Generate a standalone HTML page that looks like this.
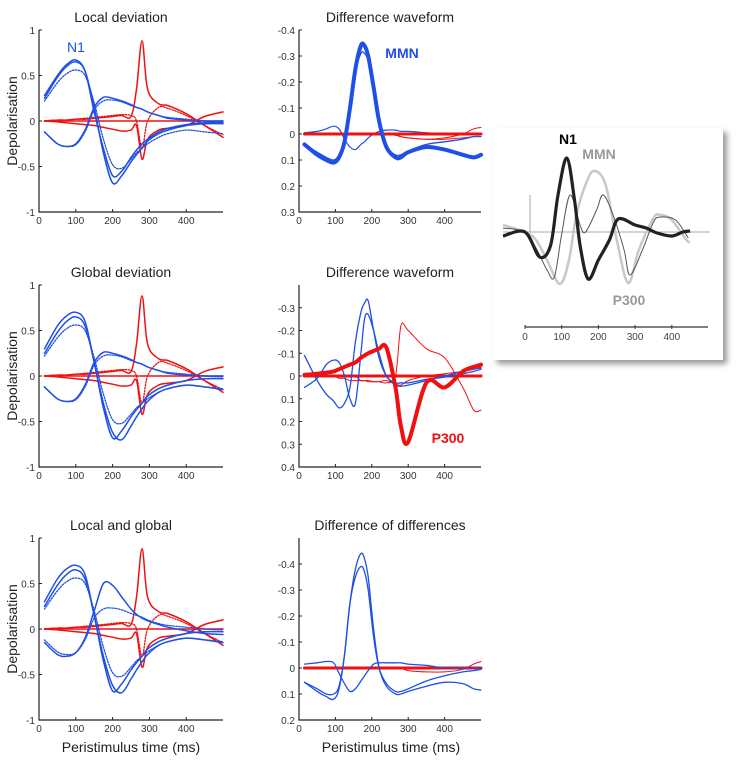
<!DOCTYPE html>
<html><head><meta charset="utf-8"><style>
body{margin:0;background:#fff;}
svg{display:block;font-family:"Liberation Sans",sans-serif;}
</style></head><body>
<svg id="fig" width="740" height="761" viewBox="0 0 740 761">
<defs><filter id="sh" x="-10%" y="-10%" width="130%" height="130%"><feGaussianBlur stdDeviation="3"/></filter></defs>
</svg>
<script>
// ---- data ----
const T = [15,50,75,100,125,150,175,200,225,250,265,280,295,325,350,400,450,500];
const blueA = [0.28,0.5,0.62,0.67,0.55,0.1,-0.3,-0.6,-0.55,-0.4,-0.32,-0.25,-0.2,-0.12,-0.08,-0.04,-0.02,-0.02];
const blueB = [0.25,0.48,0.6,0.65,0.55,0.15,-0.35,-0.68,-0.6,-0.45,-0.37,-0.3,-0.22,-0.14,-0.1,-0.05,-0.03,-0.03];
const blueC = [0.22,0.42,0.52,0.56,0.5,0.2,-0.2,-0.48,-0.52,-0.42,-0.35,-0.3,-0.25,-0.18,-0.14,-0.1,-0.12,-0.14];
const blueD = [-0.12,-0.25,-0.28,-0.25,-0.1,0.15,0.26,0.25,0.22,0.18,0.15,0.13,0.1,0.06,0.03,0.01,0.0,0.0];
const blueE = [-0.12,-0.25,-0.28,-0.26,-0.12,0.12,0.22,0.23,0.21,0.17,0.15,0.13,0.1,0.06,0.04,0.02,0.0,-0.01];
const red1 = [0,0.01,0.01,0.02,0.02,0.03,0.04,0.05,0.06,0.05,0.35,0.88,0.35,0.19,0.17,0.08,-0.05,-0.18];
const red2 = [0,-0.01,-0.02,-0.03,-0.04,-0.05,-0.07,-0.09,-0.11,-0.1,-0.05,-0.42,-0.2,-0.1,-0.08,-0.05,0.05,0.1];
const red3 = [0,0.01,0.01,0.02,0.03,0.04,0.05,0.06,0.07,0.06,0.0,-0.3,0.0,0.15,0.14,0.06,-0.05,-0.15];
const red4 = [0,0,0,0,0,0,0,0,0,0,0,0,0,0,0,0,0,0];
const blueA2 = [0.3,0.55,0.66,0.7,0.6,0.15,-0.3,-0.62,-0.7,-0.55,-0.45,-0.36,-0.28,-0.18,-0.14,-0.1,-0.12,-0.15];
const blueD2 = [-0.15,-0.28,-0.3,-0.26,-0.1,0.2,0.5,0.48,0.35,0.22,0.16,0.12,0.09,0.05,0.02,-0.02,-0.05,-0.06];

const TM = [15,50,75,95,110,125,140,155,170,180,190,205,220,240,265,280,300,350,400,450,480,500];
const d1mmn = [0.04,0.08,0.1,0.11,0.09,0.03,-0.1,-0.25,-0.34,-0.34,-0.3,-0.18,-0.05,0.05,0.09,0.09,0.07,0.05,0.06,0.08,0.09,0.08];
const d1b = [0.04,0.07,0.09,0.1,0.08,0.02,-0.1,-0.24,-0.31,-0.31,-0.28,-0.16,-0.04,0.05,0.08,0.08,0.065,0.04,0.03,0.02,0.01,0.01];
const d1c = [-0.005,-0.01,-0.02,-0.03,-0.02,0.02,0.05,0.06,0.04,0.03,0.015,0,-0.01,-0.015,-0.015,-0.01,-0.01,-0.005,0,0,0,0];
const d1r = [0,0,0,0,0,0,0,0,0,0,0,0,0,0,0.005,0.01,0.015,0.02,0.015,0,-0.02,-0.025];
const d1r2 = [0,0,0,0,0,0,0,0,0,0,0,0,0,0,0.005,0.01,0.015,0.02,0.02,0.015,0.01,0.01];
const zeros = [0,0,0,0,0,0,0,0,0,0,0,0,0,0,0,0,0,0,0,0,0,0];
const d2a = [-0.09,0.02,0.08,0.11,0.14,0.12,0.05,-0.15,-0.28,-0.32,-0.33,-0.2,-0.08,0,0.04,0.045,0.04,0.02,0,-0.02,-0.03,-0.035];
const d2b = [0.05,0.01,-0.05,-0.07,-0.06,0,0.1,0.12,-0.1,-0.25,-0.27,-0.2,-0.1,0,0.03,0.03,0.03,0.015,0.005,-0.01,-0.02,-0.03];
const d2p300 = [-0.005,-0.01,-0.015,-0.02,-0.03,-0.04,-0.05,-0.06,-0.08,-0.09,-0.1,-0.11,-0.12,-0.125,0.05,0.22,0.29,0.03,0.05,-0.02,-0.04,-0.05];
const d2r = [0,0,0,0,0,0,0,0,0.02,0.02,0.02,0.025,0.025,0.03,0,-0.22,-0.2,-0.12,-0.08,0.05,0.15,0.15];
const d2r2 = [0,0,0,0,0.01,0.01,0.02,0.02,0.02,0.02,0.025,0.025,0.025,0.02,0.035,0.04,0.02,0,-0.01,-0.02,-0.03,-0.04];
const d3a = [0.055,0.09,0.11,0.12,0.08,-0.05,-0.25,-0.38,-0.44,-0.42,-0.35,-0.15,0,0.07,0.1,0.1,0.09,0.07,0.055,0.06,0.08,0.085];
const d3b = [0.055,0.08,0.1,0.1,0.07,-0.05,-0.25,-0.35,-0.39,-0.37,-0.3,-0.12,0,0.06,0.09,0.09,0.08,0.05,0.03,0.015,0.01,0.005];
const d3c = [-0.015,-0.02,-0.025,-0.02,0.02,0.06,0.09,0.08,0.05,0.03,0.01,-0.015,-0.02,-0.02,-0.02,-0.02,-0.015,-0.01,0,0,0,0];
const d3r = [0,0,0,0,0,0,0,0,0,0,0,0,0,0,0,0,0.01,0.015,0.015,0.005,-0.015,-0.025];

const TI = [-60,0,40,70,90,114,135,150,172,200,230,254,300,330,360,400,430,450];
const inBlack = [-0.4,0,-2.5,-1.3,3.7,7.4,3.2,-1.3,-4.7,-2.8,-0.8,1.3,0.7,0.4,-0.1,-0.4,0,0.1];
const TI2 = [-60,0,30,60,95,120,140,170,191,220,250,281,310,350,370,400,440,450];
const inLight = [0.7,0,-0.8,-2.8,-5.2,-2.8,1.7,5.2,6.1,4.7,-0.8,-5.1,-1.8,1.4,1.7,1.2,-0.8,-1.0];
const TI3 = [-60,0,30,60,80,100,123,150,165,195,213,240,270,286,320,350,370,410,445];
const inThin = [0.4,0,-1.6,-3.8,-4.5,-0.2,3.7,0.7,0,2.2,3.7,1.7,-1.8,-4.3,-1.8,1.0,1.5,1.2,-0.6];

const xTicks = [0,100,200,300,400];
const leftYTicks = [1,0.5,0,-0.5,-1];
const leftYLabels = ["1","0.5","0","-0.5","-1"];

// ---- drawing ----
const svg = document.getElementById('fig');
const NS = 'http://www.w3.org/2000/svg';
function mk(tag, attrs, parent){const e=document.createElementNS(NS,tag);for(const k in attrs)e.setAttribute(k,attrs[k]);(parent||svg).appendChild(e);return e;}
function txt(x,y,s,size,anchor,fill,weight,parent){const e=mk('text',{x:x,y:y,'font-size':size,'text-anchor':anchor||'middle',fill:fill||'#222','font-weight':weight||'normal'},parent);e.textContent=s;return e;}
function smooth(pts){
  let d='M'+pts[0][0].toFixed(1)+','+pts[0][1].toFixed(1);
  for(let i=0;i<pts.length-1;i++){
    const p0=pts[Math.max(0,i-1)],p1=pts[i],p2=pts[i+1],p3=pts[Math.min(pts.length-1,i+2)];
    const k=1/6;
    const c1=[p1[0]+(p2[0]-p0[0])*k,p1[1]+(p2[1]-p0[1])*k];
    const c2=[p2[0]-(p3[0]-p1[0])*k,p2[1]-(p3[1]-p1[1])*k];
    d+=` C${c1[0].toFixed(1)},${c1[1].toFixed(1)} ${c2[0].toFixed(1)},${c2[1].toFixed(1)} ${p2[0].toFixed(1)},${p2[1].toFixed(1)}`;
  }
  return d;
}

const BLUE='#1f4fe6', RED='#f01010';

function panel(name, px0, px1, py0, py1, ymin, ymax, invert, yt, ylab, title, showYLabel){
  const g = mk('g',{});
  
  
  const sx = t => px0 + (t/500)*(px1-px0);
  const sy = v => invert ? py0 + (v-ymin)/(ymax-ymin)*(py1-py0) : py1 - (v-ymin)/(ymax-ymin)*(py1-py0);
  const ax = mk('path',{d:`M${px0},${py0} V${py1} H${px1}`,stroke:'#222','stroke-width':1.2,fill:'none'},g);
  
  
  yt.forEach((v,i)=>{const y=sy(v);mk('line',{x1:px0,x2:px0+3,y1:y,y2:y,stroke:'#222'},g);
    const l=txt(px0-4,y+4,ylab[i],10,'end','#333',null,g);
    
    });
  xTicks.forEach(v=>{const x=sx(v);mk('line',{x1:x,x2:x,y1:py1,y2:py1-3,stroke:'#222'},g);
    const l=txt(x,py1+12,String(v),10,'middle','#333',null,g);
    
    });
  const tt=txt((px0+px1)/2+(showYLabel?-10:0),py0-8,title,14,'middle','#222',null,g);
  
  
  if(showYLabel){const l=mk('text',{x:0,y:0,'font-size':14,'text-anchor':'middle',fill:'#222',transform:`translate(17,${(py0+py1)/2}) rotate(-90)`},g);l.textContent='Depolarisation';
    
    }
  return {g, line(ts, vs, color, w, dash, nm){
    const d = smooth(ts.map((t,i)=>[sx(t),sy(vs[i])]));
    const p = mk('path',{d:d,stroke:color,'stroke-width':w,fill:'none','stroke-linejoin':'round','stroke-linecap':'round'},g);
    if(dash) p.setAttribute('stroke-dasharray',dash);
    
    
  }};
}

function leftPanel(name,py0,py1,title,bA,bD){
  const P = panel(name,39,223,py0,py1,-1,1,false,leftYTicks,leftYLabels,title,true);
  P.line(T,red4,RED,1.5,null,'red-baseline');
  P.line(T,red3,RED,1.3,'1.5,1.5','red-dotted-series');
  P.line(T,red2,RED,1.5,null,'red-dip-series');
  P.line(T,red1,RED,1.5,null,'red-spike-series');
  P.line(T,blueC,BLUE,1.3,'1.5,1.5','blue-dotted-series');
  P.line(T,blueE,BLUE,1.3,'1.5,1.5','blue-dotted-series-2');
  P.line(T,bA,BLUE,1.5,null,'blue-series-a');
  P.line(T,blueB,BLUE,1.5,null,'blue-series-b');
  P.line(T,bD,BLUE,1.5,null,'blue-series-d');
  return P;
}
const L1 = leftPanel('local-deviation-panel',30,212,'Local deviation',blueA,blueD);
const n1=txt(76,52,'N1',14,'middle',BLUE,null,L1.g);


leftPanel('global-deviation-panel',285,467,'Global deviation',blueA2,blueD);
leftPanel('local-global-panel',538,720,'Local and global',blueA2,blueD2);

const M1 = panel('difference-waveform-panel-1',299,481,30,212,-0.4,0.3,true,[-0.4,-0.3,-0.2,-0.1,0,0.1,0.2,0.3],["-0.4","-0.3","-0.2","-0.1","0","0.1","0.2","0.3"],'Difference waveform',false);
M1.line(TM,d1r,RED,1,null,'red-thin-series');
M1.line(TM,d1r2,RED,1,null,'red-thin-series-2');
M1.line(TM,d1c,BLUE,1.2,null,'blue-thin-series');
M1.line(TM,zeros,RED,3,null,'red-thick-baseline');
M1.line(TM,d1b,BLUE,1.3,null,'blue-series-b');
M1.line(TM,d1mmn,BLUE,4,null,'mmn-series');
const mm=txt(402,58,'MMN',14,'middle',BLUE,'bold',M1.g);



const M2 = panel('difference-waveform-panel-2',299,481,285,467,-0.4,0.4,true,[-0.3,-0.2,-0.1,0,0.1,0.2,0.3,0.4],["-0.3","-0.2","-0.1","0","0.1","0.2","0.3","0.4"],'Difference waveform',false);
M2.line(TM,zeros,BLUE,3,null,'blue-thick-baseline');
M2.line(TM,zeros,RED,3,null,'red-thick-baseline');
M2.line(TM,d2r2,RED,1,null,'red-thin-series-2');
M2.line(TM,d2r,RED,1,null,'red-thin-series');
M2.line(TM,d2a,BLUE,1.3,null,'blue-series-a');
M2.line(TM,d2b,BLUE,1.3,null,'blue-series-b');
M2.line(TM,d2p300,RED,4,null,'p300-series');
const p3=txt(448,443,'P300',14,'middle',RED,'bold',M2.g);



const M3 = panel('difference-of-differences-panel',299,481,538,720,-0.5,0.2,true,[-0.4,-0.3,-0.2,-0.1,0,0.1,0.2],["-0.4","-0.3","-0.2","-0.1","0","0.1","0.2"],'Difference of differences',false);
M3.line(TM,d3r,RED,1,null,'red-thin-series');
M3.line(TM,zeros,RED,3,null,'red-thick-baseline');
M3.line(TM,d3c,BLUE,1.3,null,'blue-series-c');
M3.line(TM,d3b,BLUE,1.3,null,'blue-series-b');
M3.line(TM,d3a,BLUE,1.3,null,'blue-series-a');

[131,391].forEach(x=>{const e=txt(x,752,'Peristimulus time (ms)',14,'middle','#222');

});

// inset
const ig = mk('g',{});


mk('rect',{x:497,y:132,width:230,height:232,fill:'#999',filter:'url(#sh)'},ig);
mk('rect',{x:493,y:128,width:230,height:232,fill:'#fff'},ig);
const ix = t => 525 + t*0.367;
const iy = v => 232 - v*10;
mk('line',{x1:503,x2:710,y1:232,y2:232,stroke:'#aaa','stroke-width':1},ig);
mk('line',{x1:530,x2:530,y1:195,y2:232,stroke:'#aaa','stroke-width':1},ig);
function iline(ts,vs,c,w,nm){const d=smooth(ts.map((t,i)=>[ix(t),iy(vs[i])]));
  const p=mk('path',{d:d,stroke:c,'stroke-width':w,fill:'none','stroke-linejoin':'round'},ig);
  
  }
iline(TI2,inLight,'#c8c8c8',2.5,'inset-light-gray-series');
iline(TI3,inThin,'#555',1,'inset-thin-series');
iline(TI,inBlack,'#222',3.2,'inset-black-series');
mk('line',{x1:525,x2:708,y1:327,y2:327,stroke:'#333','stroke-width':1.2},ig);
xTicks.forEach(v=>{mk('line',{x1:ix(v),x2:ix(v),y1:325,y2:329,stroke:'#333'},ig);
  const l=txt(ix(v),340,String(v),10,'middle','#444',null,ig);
  
  });
const a=txt(568,144,'N1',14,'middle','#000','bold',ig);


const b=txt(599,159,'MMN',14,'middle','#999','bold',ig);


const c=txt(629,305,'P300',14,'middle','#999','bold',ig);


</script>
</body></html>
